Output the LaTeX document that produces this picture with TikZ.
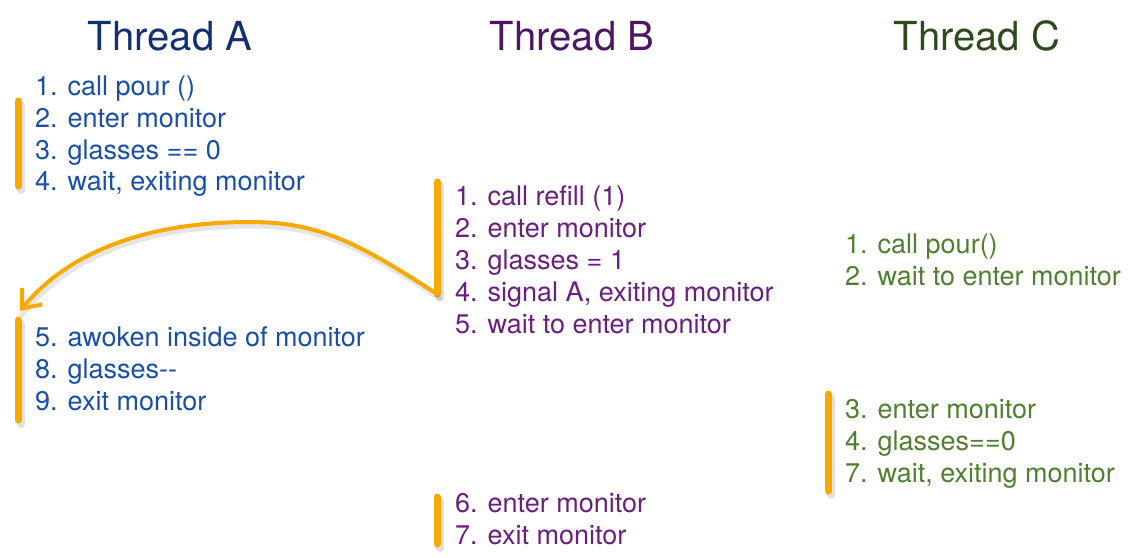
\documentclass[tikz,border=0pt]{standalone}
\usepackage{fontspec}
\setmainfont{TeX Gyre Heros}
\usetikzlibrary{arrows.meta}
\definecolor{txtA}{HTML}{1A4EA8}
\definecolor{ttlA}{HTML}{12306F}
\definecolor{txtB}{HTML}{6A1F80}
\definecolor{ttlB}{HTML}{4C1662}
\definecolor{txtC}{HTML}{4F7F2F}
\definecolor{ttlC}{HTML}{2C4A1C}
\definecolor{marker}{HTML}{F7A900}
\begin{document}
\begin{tikzpicture}[x=1pt,y=-1pt,
  itemtext/.style={anchor=base west, inner sep=0pt, font=\fontsize{27}{32}\selectfont},
  itemA/.style={itemtext, text=txtA},
  itemB/.style={itemtext, text=txtB},
  itemC/.style={itemtext, text=txtC},
  ttl/.style={anchor=base, inner sep=0pt, font=\fontsize{40}{48}\selectfont},
  bar/.style={draw=marker, line width=7pt, line cap=round},
  barshadow/.style={draw=black, draw opacity=0.12, line width=8pt, line cap=round},
  signal/.style={draw=marker, line width=4pt, line cap=round,
    -{Straight Barb[length=16pt, width=26pt, line width=4pt]}}
]
\useasboundingbox (0,0) rectangle (1135,557);
\fill[white] (0,0) rectangle (1135,557);

% titles
\node[ttl, text=ttlA] (tA) at (170,50) {Thread A};
\node[ttl, text=ttlB] (tB) at (572,50) {Thread B};
\node[ttl, text=ttlC] (tC) at (977,50) {Thread C};

% marker bar coordinates
\coordinate (a1s) at (18,101);  \coordinate (a1e) at (18,186);
\coordinate (a2s) at (18,320);  \coordinate (a2e) at (18,420);
\coordinate (b1s) at (437,182); \coordinate (b1e) at (437,294);
\coordinate (b2s) at (437,497); \coordinate (b2e) at (437,544);
\coordinate (c1s) at (828,394); \coordinate (c1e) at (828,491);

\foreach \s/\e in {a1s/a1e, a2s/a2e, b1s/b1e, b2s/b2e, c1s/c1e} {
  \draw[barshadow] ([shift={(3,4)}]\s) -- ([shift={(3,4)}]\e);
}
\foreach \s/\e in {a1s/a1e, a2s/a2e, b1s/b1e, b2s/b2e, c1s/c1e} {
  \draw[bar] (\s) -- (\e);
}

% signal arrow
\coordinate (tip) at (20,311);
\draw[draw=black, draw opacity=0.10, line width=5pt, line cap=round]
  ([shift={(2,4)}]b1e) .. controls (362,248) and (322,226) .. (252,226)
  .. controls (152,226) and (72,252) .. ([shift={(2,4)}]tip);
\draw[signal] (b1e) .. controls (360,244) and (320,222) .. (250,222)
  .. controls (150,222) and (70,250) .. (tip);

% Thread A
\node[itemA] (a1) at (35,95)  {1. call pour ()};
\node[itemA] (a2) at (35,127) {2. enter monitor};
\node[itemA] (a3) at (35,159) {3. glasses == 0};
\node[itemA] (a4) at (35,190) {4. wait, exiting monitor};
\node[itemA] (a5) at (35,346) {5. awoken inside of monitor};
\node[itemA] (a8) at (35,378) {8. glasses-\kern0pt-};
\node[itemA] (a9) at (35,410) {9. exit monitor};

% Thread B
\node[itemB] (b1) at (455,205) {1. call refill (1)};
\node[itemB] (b2) at (455,237) {2. enter monitor};
\node[itemB] (b3) at (455,269) {3. glasses = 1};
\node[itemB] (b4) at (455,301) {4. signal A, exiting monitor};
\node[itemB] (b5) at (455,333) {5. wait to enter monitor};
\node[itemB] (b6) at (455,512) {6. enter monitor};
\node[itemB] (b7) at (455,544) {7. exit monitor};

% Thread C
\node[itemC] (c1) at (845,253) {1. call pour()};
\node[itemC] (c2) at (845,285) {2. wait to enter monitor};
\node[itemC] (c3) at (845,418) {3. enter monitor};
\node[itemC] (c4) at (845,450) {4. glasses==0};
\node[itemC] (c7) at (845,482) {7. wait, exiting monitor};
\end{tikzpicture}
\end{document}
